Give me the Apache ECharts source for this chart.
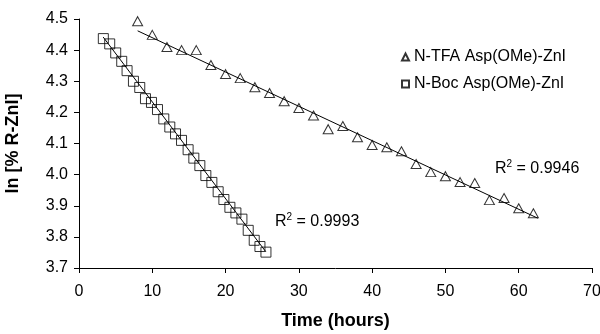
<!DOCTYPE html>
<html>
<head>
<meta charset="utf-8">
<script src="https://cdn.jsdelivr.net/npm/echarts@6/dist/echarts.min.js"></script>
<style>html,body{margin:0;padding:0;background:#fff}#c{width:600px;height:334px}</style>
</head>
<body>
<div id="c"></div>
<script>
// N-TFA Asp(OMe)-ZnI (triangles)
var tfaX = [8,10,12,14,16,18,20,22,24,26,28,30,32,34,36,38,40,42,44,46,48,50,52,54,56,58,60,62];
var tfaY = [4.493,4.449,4.410,4.400,4.400,4.352,4.323,4.310,4.281,4.262,4.236,4.214,4.190,4.146,4.156,4.120,4.095,4.088,4.075,4.034,4.008,3.995,3.976,3.973,3.918,3.925,3.892,3.876];
// N-Boc Asp(OMe)-ZnI (squares)
var bocX = [3.32,4.19,5.01,5.83,6.56,7.43,8.29,9.07,9.89,10.71,11.57,12.39,13.17,13.99,14.89,15.67,16.49,17.31,18.13,18.99,19.77,20.59,21.41,22.23,23.09,23.91,24.69,25.51];
var bocY = [4.437,4.420,4.391,4.364,4.334,4.300,4.280,4.244,4.232,4.209,4.179,4.153,4.131,4.110,4.080,4.053,4.029,3.997,3.975,3.945,3.920,3.895,3.877,3.857,3.821,3.789,3.769,3.751];
// trend lines (endpoints)
var tfaTrendX = [8, 62.6];
var tfaTrendY = [4.462, 3.860];
var bocTrendX = [3.3, 25.5];
var bocTrendY = [4.442, 3.752];
var xTicks = [0,10,20,30,40,50,60,70];
var yTicks = [3.7,3.8,3.9,4.0,4.1,4.2,4.3,4.4,4.5];
var names = ['N-TFA Asp(OMe)-ZnI','N-Boc Asp(OMe)-ZnI'];
var r2Values = ['0.9946','0.9993'];

function zip(a,b){return a.map(function(v,i){return [v,b[i]];});}
var FONT = 'Liberation Sans, Arial, sans-serif';
function r2Text(v){return '{r|R}{s|2}{r| = '+v+'}';}
var r2Rich = {
  r:{fontFamily:FONT,fontSize:16,fill:'#000',lineHeight:18,verticalAlign:'bottom'},
  s:{fontFamily:FONT,fontSize:10,fill:'#000',lineHeight:18,verticalAlign:'top'}
};
var chart = echarts.init(document.getElementById('c'), null, {renderer:'canvas'});
chart.setOption({
  animation:false,
  backgroundColor:'#fff',
  grid:{left:79,right:8,top:19,bottom:66,containLabel:false,outerBoundsMode:'none'},
  legend:{
    data:[{name:names[0],icon:'triangle'},{name:names[1],icon:'rect'}],
    orient:'vertical', left:396, top:43, itemWidth:7, itemHeight:7, itemGap:9,
    textStyle:{fontFamily:FONT,fontSize:16,color:'#000',lineHeight:18}
  },
  xAxis:{
    type:'value', min:0, max:70, interval:10,
    name:'Time (hours)', nameLocation:'middle', nameGap:44,
    nameTextStyle:{fontFamily:FONT,fontSize:18,fontWeight:'bold',color:'#000'},
    axisLine:{lineStyle:{color:'#000',width:1}},
    axisTick:{show:true,length:5,lineStyle:{color:'#000'}},
    axisLabel:{fontFamily:FONT,fontSize:16,color:'#000',margin:16},
    splitLine:{show:false}
  },
  yAxis:{
    type:'value', min:3.7, max:4.5, interval:0.1,
    name:'ln [% R-ZnI]', nameLocation:'middle', nameGap:57, nameRotate:90,
    nameTextStyle:{fontFamily:FONT,fontSize:18,fontWeight:'bold',color:'#000'},
    axisLine:{show:true,lineStyle:{color:'#000',width:1}},
    axisTick:{show:true,length:5,lineStyle:{color:'#000'}},
    axisLabel:{fontFamily:FONT,fontSize:16,color:'#000',margin:11,
      formatter:function(v){return v.toFixed(1);}},
    splitLine:{show:false}
  },
  series:[
    {name:'tfaTrend',type:'line',data:zip(tfaTrendX,tfaTrendY),symbol:'none',
     lineStyle:{color:'#000',width:1},z:1,silent:true},
    {name:'bocTrend',type:'line',data:zip(bocTrendX,bocTrendY),symbol:'none',
     lineStyle:{color:'#000',width:1},z:1,silent:true},
    {name:names[0],type:'scatter',data:zip(tfaX,tfaY),symbol:'triangle',symbolSize:[10,9],
     itemStyle:{color:'rgba(255,255,255,0)',borderColor:'#000',borderWidth:1},z:2},
    {name:names[1],type:'scatter',data:zip(bocX,bocY),symbol:'rect',symbolSize:10,
     itemStyle:{color:'rgba(255,255,255,0)',borderColor:'#000',borderWidth:1},z:2}
  ],
  graphic:[
    {type:'text',left:495,top:159,style:{text:r2Text(r2Values[0]),rich:r2Rich}},
    {type:'text',left:275,top:212,style:{text:r2Text(r2Values[1]),rich:r2Rich}}
  ]
});
</script>
</body>
</html>
